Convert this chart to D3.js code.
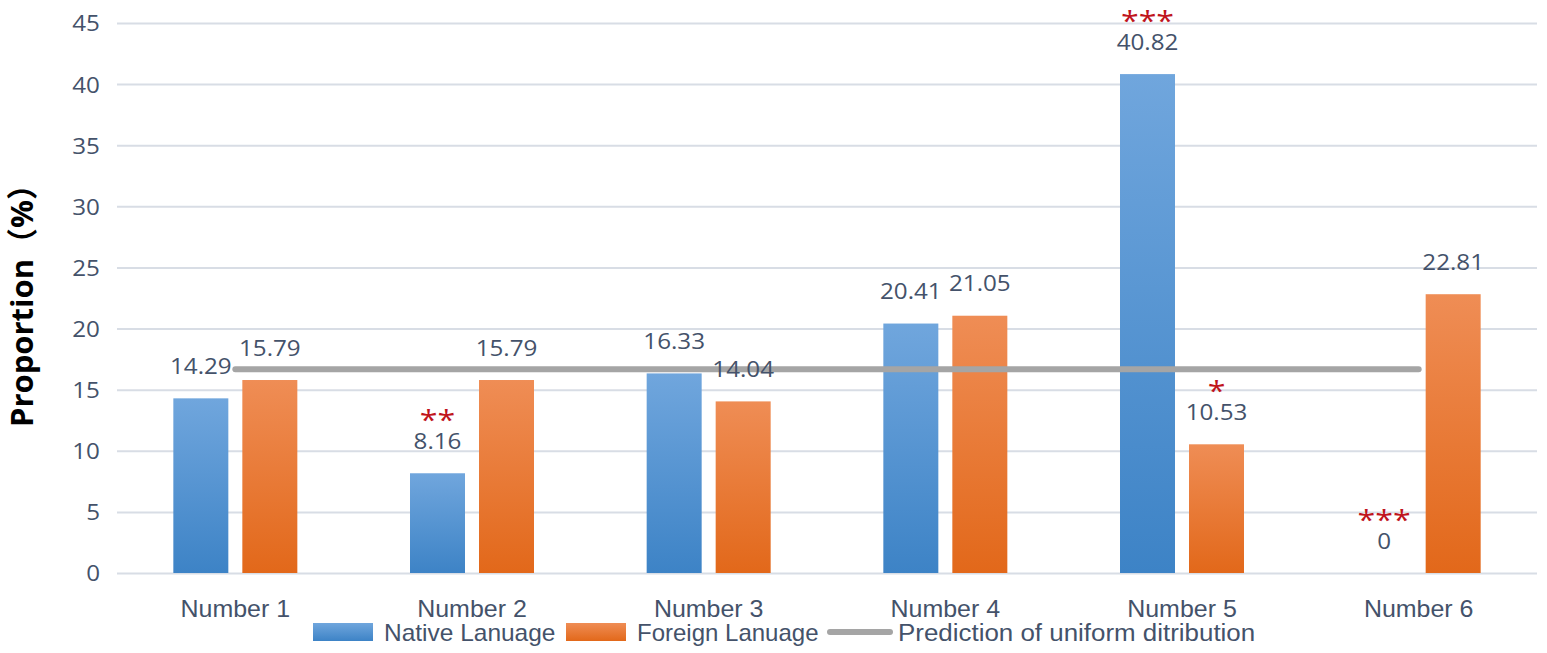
<!DOCTYPE html>
<html><head><meta charset="utf-8">
<script src="https://cdn.jsdelivr.net/npm/d3@7"></script>
<style>body{margin:0;background:#fff}svg{display:block}</style>
</head><body>
<svg id="c" width="1547" height="653"></svg>
<script>
const categories = ["Number 1","Number 2","Number 3","Number 4","Number 5","Number 6"];
const seriesNames = ["Native Lanuage","Foreign Lanuage"];
const nativeValues = [14.29, 8.16, 16.33, 20.41, 40.82, 0];
const foreignValues = [15.79, 15.79, 14.04, 21.05, 10.53, 22.81];
const uniformValues = [16.67, 16.67, 16.67, 16.67, 16.67, 16.67];
const nativeStars = ["", "**", "", "", "***", "***"];
const foreignStars = ["", "", "", "", "*", ""];
const yTicks = [0,5,10,15,20,25,30,35,40,45];
const lineName = "Prediction of uniform ditribution";
const yTitle = "Proportion（%）";

(function(){
const svg = d3.select("#c");
const pL = 117, pR = 1537, pT = 23, pB = 573;
const textCol = "#44526a", gridCol = "#d8dde5";
const numFont = "'Open Sans', 'Segoe UI', sans-serif";
const lblFont = "'Liberation Sans', Arial, sans-serif";

const y = d3.scaleLinear().domain([0,45]).range([pB, pT]);
const x0 = d3.scaleBand().domain(categories).range([pL, pR]).padding(0);
const barW = 55, gap = 14, step = barW + gap;
const po = (x0.bandwidth()/step - 2 + gap/step)/2;
const x1 = d3.scaleBand().domain(seriesNames).range([0, x0.bandwidth()])
  .paddingInner(gap/step).paddingOuter(po);

const defs = svg.append("defs");
function grad(id, c1, c2){
  const g = defs.append("linearGradient").attr("id", id).attr("x1",0).attr("y1",0).attr("x2",0).attr("y2",1);
  g.append("stop").attr("offset","0%").attr("stop-color",c1);
  g.append("stop").attr("offset","100%").attr("stop-color",c2);
}
grad("gBlue", "#70a6dd", "#3d83c6");
grad("gOrange", "#ef8d55", "#e2681a");
const fills = {"Native Lanuage":"url(#gBlue)","Foreign Lanuage":"url(#gOrange)"};

const yAxis = svg.append("g").attr("transform", `translate(${pL},0)`)
  .call(d3.axisLeft(y).tickValues(yTicks).tickSize(-(pR-pL)).tickPadding(15.5));
yAxis.select(".domain").remove();
yAxis.selectAll(".tick line").attr("stroke", gridCol).attr("stroke-width", 2);
yAxis.selectAll(".tick text").attr("fill", textCol).attr("font-family", numFont)
  .attr("font-size", 22).attr("transform","scale(1.1,1)").attr("dy","0.36em");

const xAxis = svg.append("g").attr("transform", `translate(0,${pB})`)
  .call(d3.axisBottom(x0).tickSize(0).tickPadding(27));
xAxis.select(".domain").remove();
xAxis.selectAll(".tick text").attr("fill", textCol).attr("font-family", lblFont)
  .attr("font-size", 24).attr("transform","scale(1.04,1)");

const rows = categories.map((c,i)=>({cat:c, vals:[
  {s:seriesNames[0], v:nativeValues[i], star:nativeStars[i]},
  {s:seriesNames[1], v:foreignValues[i], star:foreignStars[i]}]}));
const grp = svg.append("g").selectAll("g").data(rows).join("g")
  .attr("transform", d=>`translate(${x0(d.cat)},0)`);
grp.selectAll("rect").data(d=>d.vals).join("rect")
  .attr("x", d=>x1(d.s)).attr("width", x1.bandwidth())
  .attr("y", d=>y(d.v)).attr("height", d=>y(0)-y(d.v))
  .attr("fill", d=>fills[d.s]);

const line = d3.line().x((d,i)=>x0(categories[i])+x0.bandwidth()/2).y(d=>y(d));
svg.append("path").datum(uniformValues).attr("d", line)
  .attr("fill","none").attr("stroke","#a5a5a5").attr("stroke-width",6).attr("stroke-linecap","round");

const lblG = svg.append("g").selectAll("g").data(rows).join("g")
  .attr("transform", d=>`translate(${x0(d.cat)},0)`);
lblG.selectAll("text.val").data(d=>d.vals).join("text").attr("class","val")
  .attr("transform", d=>`translate(${x1(d.s)+x1.bandwidth()/2},${y(d.v)-24.5}) scale(1.1,1)`)
  .attr("text-anchor","middle").attr("fill", textCol).attr("font-family", numFont).attr("font-size",22)
  .text(d=>d.v);
lblG.selectAll("text.star").data(d=>d.vals.filter(v=>v.star)).join("text").attr("class","star")
  .attr("transform", d=>`translate(${x1(d.s)+x1.bandwidth()/2},${y(d.v)-24.5-19}) scale(1.15,1)`)
  .attr("text-anchor","middle").attr("fill", "#c0141c").attr("font-family", numFont).attr("font-size",28)
  .text(d=>d.star);

svg.append("text").attr("transform","translate(33,298) rotate(-90)")
  .attr("text-anchor","middle").attr("font-family","'Open Sans', 'Noto Sans CJK SC', sans-serif")
  .attr("font-weight","bold").attr("font-size",31).attr("fill","#000").text(yTitle);

const lg = svg.append("g").attr("font-family", lblFont).attr("font-size",24).attr("fill",textCol);
const legendItems = [
  {type:"rect", name:seriesNames[0], x:313, sx:1.02},
  {type:"rect", name:seriesNames[1], x:566, sx:1.0},
  {type:"line", name:lineName, x:827, sx:1.08}
];
legendItems.forEach(it=>{
  if(it.type==="rect"){
    lg.append("rect").attr("x",it.x).attr("y",623).attr("width",60).attr("height",18).attr("fill",fills[it.name]);
  } else {
    lg.append("line").attr("x1",it.x+3).attr("x2",it.x+63).attr("y1",632).attr("y2",632)
      .attr("stroke","#a5a5a5").attr("stroke-width",6).attr("stroke-linecap","round");
  }
  lg.append("text").attr("transform",`translate(${it.x+71},641) scale(${it.sx},1)`).text(it.name);
});
})();
</script>
</body></html>
